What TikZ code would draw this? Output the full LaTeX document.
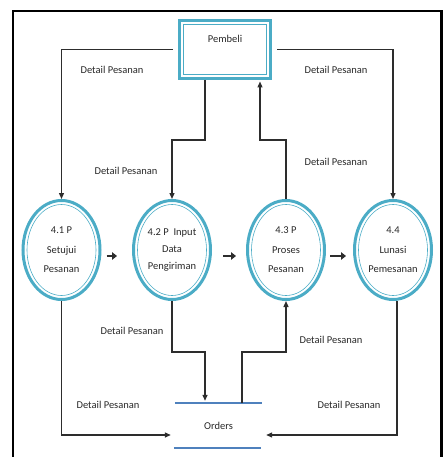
\documentclass[tikz,border=0pt]{standalone}
\usepackage{fontspec}
\setmainfont{Carlito}
\usepackage{tikz}
\usetikzlibrary{shapes.geometric, arrows.meta, positioning, calc}
\definecolor{procteal}{RGB}{75,172,198}
\definecolor{storeblue}{RGB}{79,129,189}
\definecolor{linegray}{RGB}{45,45,45}
\definecolor{textgray}{RGB}{40,40,40}
\tikzset{
  entity/.style={rectangle, draw=procteal, line width=3pt,
                 minimum width=91pt, minimum height=58pt,
                 path picture={\draw[procteal, line width=0.8pt]
                   ([shift={(4pt,-4pt)}]path picture bounding box.north west) rectangle
                   ([shift={(-4pt,4pt)}]path picture bounding box.south east);}},
  proc/.style={ellipse, draw=procteal, line width=3pt,
               minimum width=77pt, minimum height=99pt, inner sep=0pt,
               align=center, text=textgray, font=\fontsize{10.5}{19.5}\selectfont,
               path picture={\draw[procteal, line width=0.6pt]
                 (path picture bounding box.center) ellipse [x radius=34.5pt, y radius=45.5pt];}},
  store/.style={rectangle, minimum width=87pt, minimum height=45pt, text=textgray,
                font=\fontsize{10.5}{12}\selectfont},
  storeline/.style={draw=storeblue, line width=2pt},
  lbl/.style={text=textgray, font=\fontsize{10.5}{12}\selectfont, inner sep=0pt},
  flow/.style={-{Triangle[length=6pt, width=5pt]}, line width=1.3pt, draw=linegray},
  flowthick/.style={-{Triangle[length=5pt, width=7.5pt]}, line width=2.4pt, draw=linegray},
}

\begin{document}
\begin{tikzpicture}[x=1pt, y=-1pt]
  \useasboundingbox (0,0) rectangle (443,457);
  \clip (0,0) rectangle (443,457);

  % Frame
  \draw[line width=2.2pt, black] (13,480) |- (441.5,11) -- (441.5,480);

  % External entity
  \node[entity, label={[lbl, anchor=north, yshift=-16.5pt]north:Pembeli}] (pembeli) at (225,49.5) {};

  % Processes
  \node[proc] (p1) at (61.5,250) {4.1 P\\Setujui\\Pesanan};
  \node[proc, font=\fontsize{10.5}{17}\selectfont] (p2) at (172,250) {4.2 P~ Input\\Data\\Pengiriman};
  \node[proc] (p3) at (286,250) {4.3 P\\Proses\\Pesanan};
  \node[proc] (p4) at (393,250) {4.4\\Lunasi\\Pemesanan};

  % Data store
  \node[store] (orders) at (218.5,425.5) {Orders};
  \draw[storeline] (orders.north west) -- (orders.north east);
  \draw[storeline] ([xshift=-1pt]orders.south west) -- ([xshift=-1pt]orders.south east);

  % Bend levels
  \coordinate (k2) at (0,140);
  \coordinate (k3) at (0,352);

  % Flows from and to Pembeli
  \draw[flow] ([xshift=-5pt]pembeli.west) -| (p1);
  \draw[flow] ([xshift=5pt]pembeli.east) -| (p4);
  \draw[flow] ([xshift=-20pt]pembeli.south) -- ([xshift=-20pt]pembeli.south |- k2) -| (p2);
  \draw[flow, shorten >=1.5pt] (p3.north) -- (p3.north |- k2) -| ([xshift=35pt]pembeli.south);

  % Flows between processes
  \draw[flowthick, shorten <=5pt, shorten >=15pt] ([yshift=-6pt]p1.east) -- ([yshift=-6pt]p2.west);
  \draw[flowthick, shorten <=11pt, shorten >=10pt] ([yshift=-6pt]p2.east) -- ([yshift=-6pt]p3.west);
  \draw[flowthick, shorten <=4pt, shorten >=7pt] ([yshift=-6pt]p3.east) -- ([yshift=-6pt]p4.west);

  % Flows with Orders
  \draw[flow] (p1) |- ([shift={(-4pt,-9.5pt)}]orders.west);
  \draw[flow] ([xshift=4pt]p4.south) |- ([shift={(4pt,-9.5pt)}]orders.east);
  \draw[flow, shorten >=2pt] (p2.south) -- (p2.south |- k3) -| ([xshift=-13.5pt]orders.north);
  \draw[flow] ([xshift=23.5pt]orders.north) -- ([xshift=23.5pt]orders.north |- k3) -| (p3);

  % Labels
  \node[lbl] (l1) at (112,70) {Detail Pesanan};
  \node[lbl] (l2) at (336,70) {Detail Pesanan};
  \node[lbl] (l3) at (126,171) {Detail Pesanan};
  \node[lbl] (l4) at (336,162) {Detail Pesanan};
  \node[lbl] (l5) at (132,331) {Detail Pesanan};
  \node[lbl] (l6) at (331,340) {Detail Pesanan};
  \node[lbl] (l7) at (108,405) {Detail Pesanan};
  \node[lbl] (l8) at (349,405) {Detail Pesanan};
\end{tikzpicture}
\end{document}
